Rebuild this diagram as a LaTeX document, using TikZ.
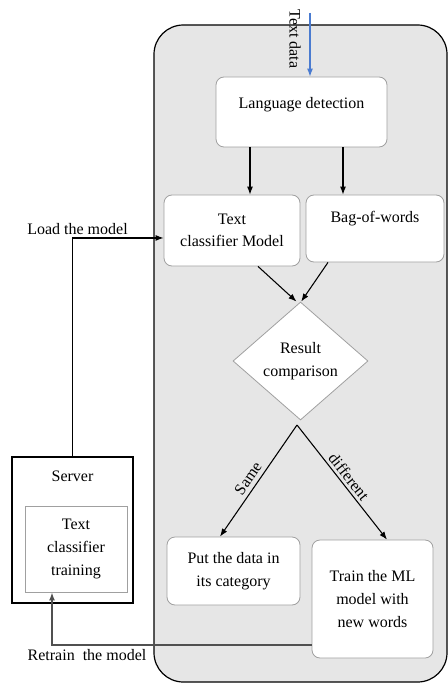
\documentclass[tikz,border=0pt]{standalone}
\usepackage{fontspec}
\setmainfont{Liberation Serif}
\usetikzlibrary{arrows.meta,shapes.geometric}
\definecolor{tcPanel}{HTML}{E6E6E6}
\definecolor{tcEdge}{HTML}{A0A0A0}
\definecolor{tcBlue}{HTML}{4A7BD0}
\definecolor{tcDark}{HTML}{505050}
\tikzset{
  tcpanel/.style={rectangle,rounded corners=22pt,draw=black,fill=tcPanel,
                  line width=0.9pt},
  tcbox/.style={rectangle,rounded corners=6pt,draw=tcEdge,fill=white,
                line width=0.6pt,align=center,inner sep=2pt},
  tcdecide/.style={diamond,draw=tcEdge,fill=white,line width=0.6pt,
                   align=center,inner sep=0pt},
  tcserver/.style={rectangle,draw=black,line width=1.2pt,fill=white},
  tcinner/.style={rectangle,draw=tcEdge,fill=white,line width=0.6pt,
                  align=center},
  tcarrow/.style={-{Latex[length=6pt,width=4.5pt]},line width=0.8pt,black},
  tclabel/.style={align=center,inner sep=1pt}
}
\begin{document}
\begin{tikzpicture}[x=0.75pt,y=-0.75pt,font=\fontsize{12}{17}\selectfont]
    \useasboundingbox (0,0) rectangle (448,684);

    \node[tcpanel,minimum width=219.75pt,minimum height=492.75pt]
      (panel) at (300.5,353.5) {};
    \node[tcbox,minimum width=128.25pt,minimum height=52.5pt]
      (lang) at (301.5,112) {Language detection\\[-4pt]\mbox{}};
    \node[tcbox,minimum width=102pt,minimum height=53.25pt]
      (tcm) at (232,230.5) {Text\\classifier Model};
    \node[tcbox,minimum width=103.5pt,minimum height=50.25pt]
      (bow) at (375,228.5) {Bag-of-words\\\mbox{}};
    \node[tcdecide,minimum width=101.25pt,minimum height=88.5pt]
      (cmp) at (300.5,361) {Result\\comparison};
    \coordinate (split) at (297,425);
    \node[tcbox,minimum width=99.75pt,minimum height=51pt]
      (put) at (233.5,571) {Put the data in\\its category};
    \node[tcbox,minimum width=90.75pt,minimum height=88.5pt]
      (trn) at (372.5,599) {Train the ML\\model with\\new words};

    \node[tcserver,minimum width=90.75pt,minimum height=109.5pt]
      (srv) at (72.5,530) {};
    \node[tclabel] (srvtxt) at (72.5,476) {Server};
    \node[tcinner,minimum width=76.5pt,minimum height=64.5pt]
      (trg) at (76,549) {Text\\classifier\\training};

    % incoming text
    \coordinate (tdin) at (310,13);
    \draw[tcarrow,tcBlue] (tdin) -- (tdin |- lang.north);
    \node[tclabel,rotate=-90] (tdlbl) at (295,39) {Text data};

    \draw[tcarrow] (lang.south -| 250,0) -- (tcm.north -| 250,0);
    \draw[tcarrow] (lang.south -| 343,0) -- (bow.north -| 343,0);
    \draw[tcarrow] (tcm.south -| 258,0) -- ([xshift=-3pt]cmp.north);
    \draw[tcarrow] (bow.south -| 328,0) -- ([xshift=0.5pt]cmp.north);

    \draw[tcarrow] (split) -- node[tclabel,sloped,above,inner sep=3pt,pos=0.53]
      {Same} (put.north -| 220,0);
    \draw[tcarrow] (split) -- node[tclabel,sloped,above,inner sep=2pt,pos=0.5]
      {different} (trn.north -| 387,0);

    % server links
    \draw[tcarrow] (srv.north) |- ([yshift=-5.6pt]tcm.west);
    \node[tclabel] (loadlbl) at (77.5,229) {Load the model};
    \coordinate (rtcorner) at (52,645);
    \draw[tcarrow,tcDark,line width=1.2pt] (trn.west |- rtcorner) -- (rtcorner)
      -- (rtcorner |- trg.south);
    \node[tclabel] (rtlbl) at (87,655) {Retrain\ \ the model};
\end{tikzpicture}
\end{document}
